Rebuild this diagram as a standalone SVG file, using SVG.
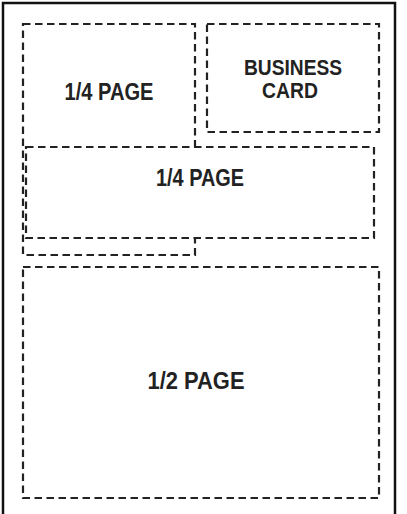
<svg xmlns="http://www.w3.org/2000/svg" width="407" height="514" viewBox="0 0 407 514">
<style>
.frame{fill:none;stroke:#111;stroke-width:2.5}
.ad{fill:#fff;stroke:#222;stroke-width:2.2;stroke-dasharray:7.5 4.5}
.lbl{font-family:"Liberation Sans",Arial,sans-serif;font-weight:bold;font-size:23px;fill:#222;text-anchor:middle}
.sm{font-size:21.5px}
</style>
<rect width="407" height="514" fill="#fff"/>
<rect class="frame" x="3" y="3" width="392" height="520"/>
<g id="quarter-top">
<rect class="ad" x="23" y="24" width="172" height="231"/>
<text class="lbl" x="109" y="100" textLength="89" lengthAdjust="spacingAndGlyphs">1/4 PAGE</text>
</g>
<g id="business-card">
<rect class="ad" x="207" y="24" width="172" height="108"/>
<text class="lbl sm" x="293" y="75" textLength="98" lengthAdjust="spacingAndGlyphs">BUSINESS</text>
<text class="lbl sm" x="290" y="98" textLength="56" lengthAdjust="spacingAndGlyphs">CARD</text>
</g>
<g id="quarter-mid">
<rect class="ad" x="26" y="147" width="348" height="91"/>
<text class="lbl" x="200" y="186" textLength="88" lengthAdjust="spacingAndGlyphs">1/4 PAGE</text>
</g>
<g id="half-page">
<rect class="ad" x="23" y="267" width="356" height="231"/>
<text class="lbl" x="196" y="389" textLength="97" lengthAdjust="spacingAndGlyphs">1/2 PAGE</text>
</g>
<g id="connectors"/>
</svg>
